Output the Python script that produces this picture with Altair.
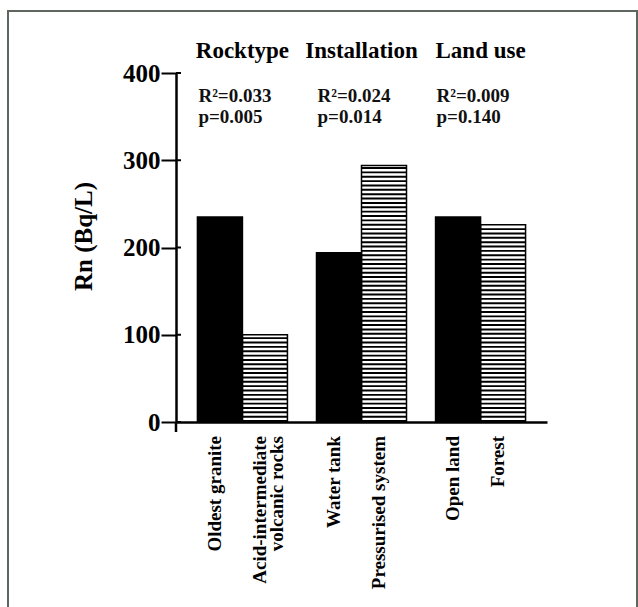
import altair as alt
import pandas as pd

# Radon concentration (Bq/L) by rock type, installation and land use
groups = ["Rocktype", "Installation", "Land use"]
labels = [
    "Oldest granite", "Acid-intermediate\nvolcanic rocks",
    "Water tank", "Pressurised system",
    "Open land", "Forest",
]
bar_group = ["Rocktype", "Rocktype", "Installation", "Installation", "Land use", "Land use"]
bar_slot = ["a", "b", "a", "b", "a", "b"]
bar_style = ["solid", "hatch", "solid", "hatch", "solid", "hatch"]
rn_values = [235, 100, 194, 294, 235, 226]
r2_text = ["R\u00b2=0.033", "R\u00b2=0.024", "R\u00b2=0.009"]
p_text = ["p=0.005", "p=0.014", "p=0.140"]
y_ticks = [0, 100, 200, 300, 400]

bars = pd.DataFrame({
    "group": bar_group, "slot": bar_slot, "style": bar_style,
    "label": labels, "value": rn_values,
})
stats = pd.DataFrame({"group": groups, "r2": r2_text, "p": p_text})
ticks = pd.DataFrame({"tick": y_ticks})

FONT = "Liberation Serif"
W, H = 371, 349

x_scale = alt.Scale(domain=groups, paddingInner=0.244, paddingOuter=0.18)
x_enc = alt.X("group:N", scale=x_scale,
              axis=alt.Axis(labels=False, ticks=False, title=None,
                            domainColor="#000", domainWidth=2.5))
off_enc = alt.XOffset("slot:N", scale=alt.Scale(domain=["a", "b"], paddingInner=0, paddingOuter=0))
y_scale = alt.Scale(domain=[0, 400], nice=False)
y_enc = alt.Y("value:Q", scale=y_scale,
              axis=alt.Axis(values=y_ticks, title="Rn (Bq/L)", grid=False,
                            domainColor="#000", domainWidth=2.5,
                            tickColor="#000", tickWidth=2, tickSize=15,
                            labelFont=FONT, labelFontSize=25, labelFontWeight="bold",
                            labelColor="#000", labelPadding=1,
                            titleFont=FONT, titleFontSize=25, titleFontWeight="bold",
                            titleColor="#000", titleX=-80, titleY=163))

base = alt.Chart(bars)

solid = base.transform_filter(alt.datum.style == "solid").mark_bar(
    color="#000", stroke="#000", strokeWidth=1.5
).encode(x=x_enc, xOffset=off_enc, y=y_enc)

hatch_box = base.transform_filter(alt.datum.style == "hatch").mark_bar(
    fill="#fff", stroke="#000", strokeWidth=1.5
).encode(x=x_enc, xOffset=off_enc, y=y_enc)

# horizontal hatching: thin black bands every 5 units up to the bar top
stripes = base.transform_filter(alt.datum.style == "hatch").transform_calculate(
    stripe="sequence(0, datum.value - 2, 5)"
).transform_flatten(["stripe"]).transform_calculate(
    stripe_top="datum.stripe + 2.2"
).mark_bar(color="#000").encode(
    x=x_enc, xOffset=off_enc,
    y=alt.Y("stripe:Q", scale=y_scale),
    y2="stripe_top:Q",
)

cat_labels = base.mark_text(
    font=FONT, fontSize=19, fontWeight="bold", color="#000",
    angle=270, align="right", baseline="middle", lineBreak="\n",
    lineHeight=17, dy=-5,
).encode(x=x_enc, xOffset=off_enc, y=alt.value(H + 14), text="label:N")

# ticks cross the axis line slightly
tick_right = alt.Chart(ticks).mark_rule(color="#000", strokeWidth=2).encode(
    y=alt.Y("tick:Q", scale=y_scale), x=alt.value(0), x2=alt.value(5)
)
axis_foot = alt.Chart(ticks).transform_filter(alt.datum.tick == 0).mark_rule(
    color="#000", strokeWidth=2.5
).encode(x=alt.value(0), y=alt.Y("tick:Q", scale=y_scale), y2=alt.value(H + 10))

titles = alt.Chart(stats).mark_text(
    font=FONT, fontSize=23, fontWeight="bold", color="#000",
    align="center", baseline="alphabetic",
).encode(x=alt.X("group:N", scale=x_scale), y=alt.value(-15), text="group:N")

r2_lines = alt.Chart(stats).mark_text(
    font=FONT, fontSize=19, fontWeight="bold", color="#111",
    align="left", baseline="alphabetic", dx=1,
).encode(x=alt.X("group:N", scale=x_scale, bandPosition=0), y=alt.value(29), text="r2:N")

p_lines = alt.Chart(stats).mark_text(
    font=FONT, fontSize=19, fontWeight="bold", color="#111",
    align="left", baseline="alphabetic", dx=1,
).encode(x=alt.X("group:N", scale=x_scale, bandPosition=0), y=alt.value(50), text="p:N")

frame = alt.Chart(pd.DataFrame({"k": [0]})).mark_rect(
    fill="#fff", fillOpacity=0, stroke="#5f6660", strokeWidth=2
).encode(x=alt.value(-168), x2=alt.value(461), y=alt.value(-62), y2=alt.value(540))

chart = alt.layer(
    frame, hatch_box, stripes, solid, tick_right, axis_foot,
    cat_labels, titles, r2_lines, p_lines,
).properties(
    width=W, height=H,
    autosize=alt.AutoSizeParams(type="none"),
    padding={"left": 176, "top": 73, "right": 91, "bottom": 185},
    background="#fff",
).configure_view(stroke=None)

chart.save("out.html", embed_options={"renderer": "svg", "actions": False})
